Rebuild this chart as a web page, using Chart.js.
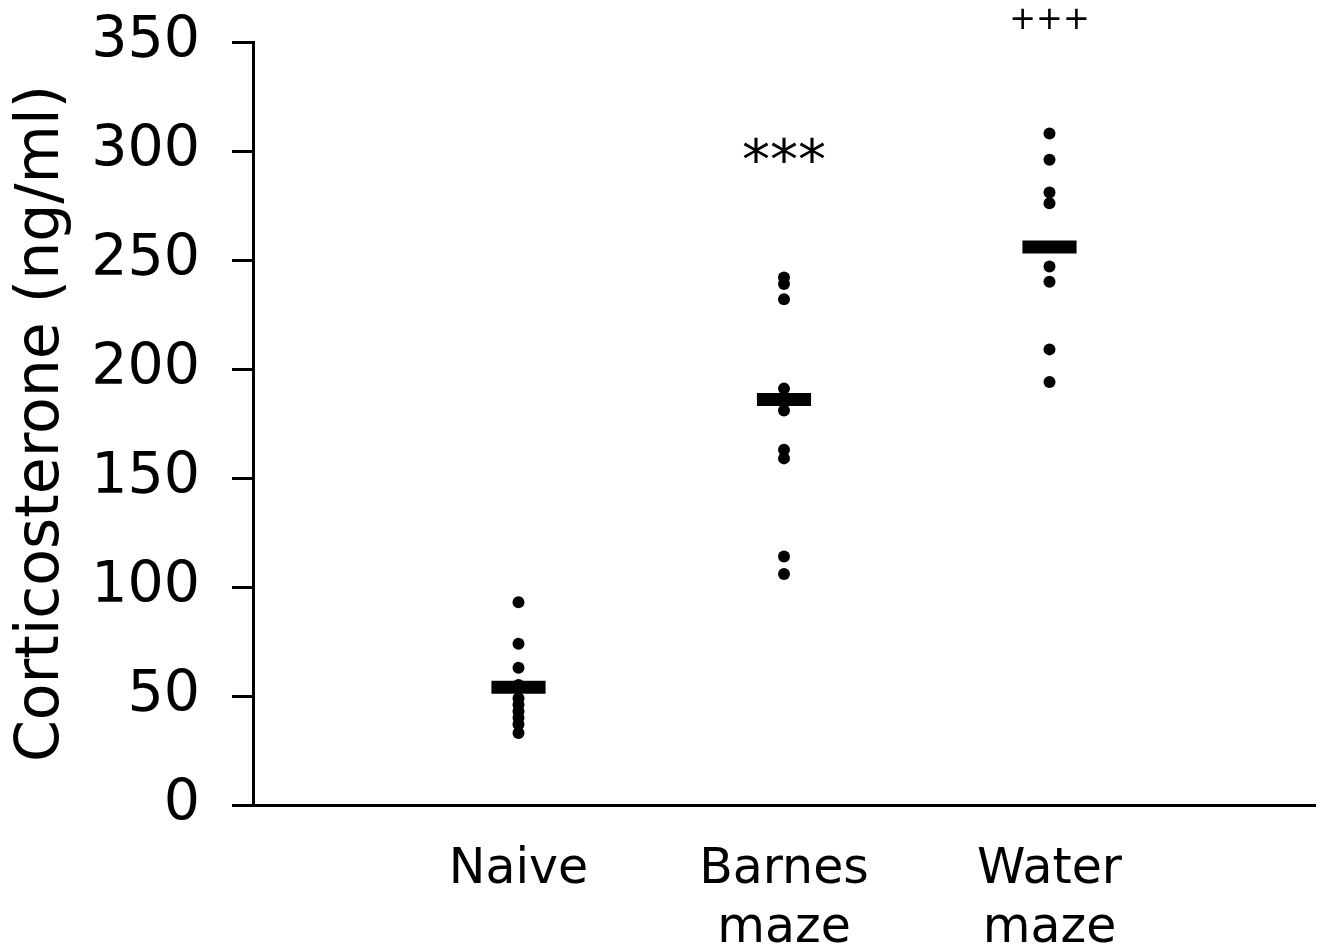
<!DOCTYPE html>
<html>
<head>
<meta charset="utf-8">
<script src="https://cdn.jsdelivr.net/npm/chart.js@4"></script>
<style>
  html, body { margin: 0; padding: 0; background: #fff; }
</style>
</head>
<body>
<canvas id="chart" width="1325" height="947"></canvas>
<script>
// Groups on the x axis (positions 1, 2, 3)
const groups = [["Naive"], ["Barnes", "maze"], ["Water", "maze"]];

// Individual corticosterone values (ng/ml)
const naive = [93, 74, 63, 55, 49, 46, 43, 40, 37, 33];
const barnes = [242, 239, 232, 191, 186, 181, 163, 159, 114, 106];
const water = [308, 296, 281, 276, 247, 240, 209, 194];

// Group means (thick horizontal bars)
const means = [54, 186, 256];

// Significance marks above groups
const marks = ["", "***", "+++"];
const markY = [null, 294, 360];

const yTicks = [0, 50, 100, 150, 200, 250, 300, 350];

const font = "'DejaVu Sans', Verdana, sans-serif";
const allValues = [naive, barnes, water];

// dots
const pointData = [];
allValues.forEach((vals, i) => {
  vals.forEach(v => pointData.push({ x: i + 1, y: v }));
});

const datasets = [{
  data: pointData,
  backgroundColor: "#000",
  borderWidth: 0,
  pointRadius: 6,
  showLine: false
}];

// mean bars as short thick lines
means.forEach((m, i) => {
  datasets.push({
    data: [{ x: i + 1 - 0.102, y: m }, { x: i + 1 + 0.102, y: m }],
    showLine: true,
    borderColor: "#000",
    borderWidth: 13,
    borderCapStyle: "butt",
    pointRadius: 0
  });
});

// draws the *** / +++ text
const markPlugin = {
  id: "marks",
  afterDatasetsDraw(chart) {
    const ctx = chart.ctx;
    const xs = chart.scales.x, ys = chart.scales.y;
    ctx.save();
    ctx.fillStyle = "#000";
    ctx.textAlign = "center";
    ctx.textBaseline = "middle";
    marks.forEach((m, i) => {
      if (!m) return;
      ctx.font = (m === "***" ? "56px " : "32px ") + font;
      ctx.fillText(m, xs.getPixelForValue(i + 1), ys.getPixelForValue(markY[i]));
    });
    ctx.restore();
  }
};

new Chart(document.getElementById("chart"), {
  type: "scatter",
  data: { datasets: datasets },
  plugins: [markPlugin],
  options: {
    responsive: false,
    animation: false,
    layout: { padding: { top: 42, right: 10, left: 0, bottom: 0 } },
    plugins: { legend: { display: false }, tooltip: { enabled: false } },
    scales: {
      x: {
        type: "linear",
        min: 0,
        max: 4,
        afterFit: s => { s.height = 142; s.paddingLeft = 0; s.paddingRight = 0; },
        afterBuildTicks: s => { s.ticks = [0, 1, 2, 3, 4].map(v => ({ value: v })); },
        grid: { display: false },
        border: { display: true, color: "#000", width: 3 },
        ticks: {
          autoSkip: false,
          maxRotation: 0,
          padding: 28,
          color: "#000",
          font: { family: font, size: 49, lineHeight: 1.2 },
          callback: v => (v >= 1 && v <= 3 ? groups[v - 1] : "")
        }
      },
      y: {
        min: 0,
        max: 350,
        afterFit: s => { s.width = 253; s.paddingTop = 0; s.paddingBottom = 0; },
        afterBuildTicks: s => { s.ticks = yTicks.map(v => ({ value: v })); },
        grid: {
          drawOnChartArea: false,
          drawTicks: true,
          tickLength: 21,
          tickColor: "#000",
          tickWidth: 3
        },
        border: { display: true, color: "#000", width: 3 },
        ticks: {
          padding: 32,
          color: "#000",
          font: { family: font, size: 57 }
        },
        title: {
          display: true,
          text: "Corticosterone (ng/ml)",
          color: "#000",
          font: { family: font, size: 60 },
          padding: { top: 6, bottom: 0 }
        }
      }
    }
  }
});
</script>
</body>
</html>
